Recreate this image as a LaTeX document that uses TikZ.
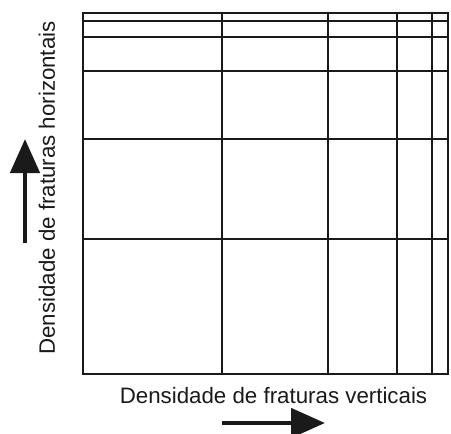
\documentclass[tikz,border=0pt]{standalone}
\usepackage{fontspec}
\setmainfont{Liberation Sans}
\usetikzlibrary{arrows.meta}
\definecolor{ink}{HTML}{1A1A1A}
\tikzset{
  gridline/.style={draw=ink, line width=2.4pt, line cap=rect},
  bigarrow/.style={draw=ink, line width=4.8pt, -{Triangle[length=34pt,width=29pt]}},
  lbl/.style={font=\fontsize{22.3}{26}\selectfont, text=ink, inner sep=0pt, anchor=base}
}
\begin{document}
\begin{tikzpicture}[x=1pt,y=-1pt]
\useasboundingbox (0,0) rectangle (451,434);
% vertical lines
\foreach \xx in {83,222,328,397,432,448}{
  \draw[gridline] (\xx,13) -- (\xx,374);
}
% horizontal lines
\foreach \yy in {13,21,37,71,139,239,374}{
  \draw[gridline] (83,\yy) -- (448,\yy);
}
% labels
\node[lbl] (xlabel) at (273.5,403) {Densidade de fraturas verticais};
\node[lbl, rotate=90] (ylabel) at (55,188) {Densidade de fraturas horizontais};
% arrows
\coordinate (ua) at (25,243);
\coordinate (ub) at (25,139);
\coordinate (ra) at (222,423);
\coordinate (rb) at (325,423);
\draw[bigarrow] (ua) -- (ub);
\draw[bigarrow] (ra) -- (rb);
\end{tikzpicture}
\end{document}
